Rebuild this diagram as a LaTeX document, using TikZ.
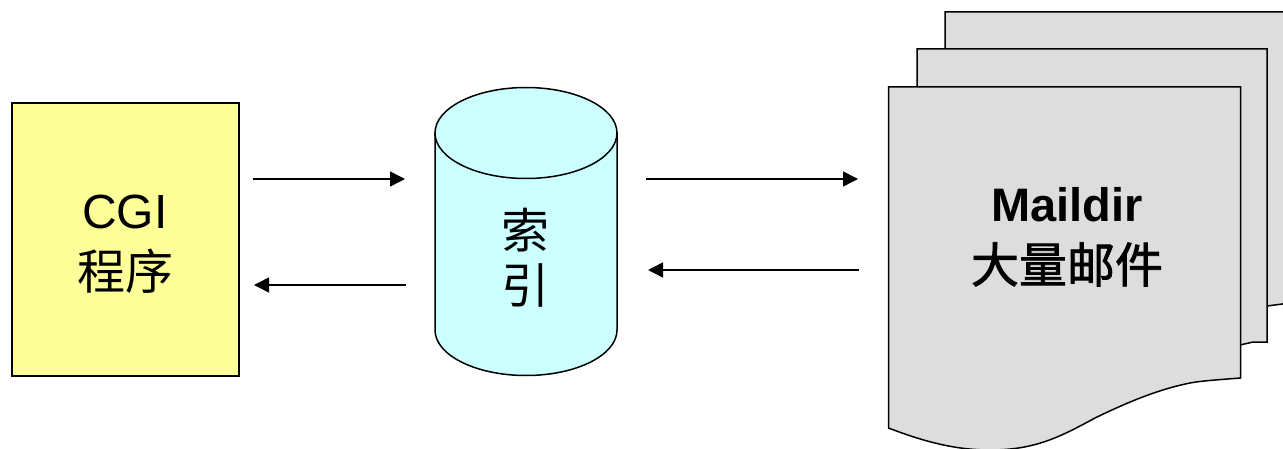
\documentclass[tikz,border=0pt]{standalone}
\usepackage{fontspec}
\setmainfont{Liberation Sans}
\newfontfamily\cjk{Noto Sans CJK SC}
\newfontfamily\cjkheavy[FakeBold=1.6]{Noto Sans CJK SC}
\usetikzlibrary{arrows.meta}
\definecolor{paper}{HTML}{DDDDDD}
\definecolor{note}{HTML}{FFFF99}
\definecolor{store}{HTML}{CCFFFF}
\tikzset{
  outline/.style={draw=black,line width=1.5pt},
  sheet/.style={outline,fill=paper,line join=miter},
  flow/.style={draw=black,line width=1.5pt,-{Triangle[length=15pt,width=15pt]}},
  label/.style={align=center,inner sep=0pt,font=\fontsize{48}{60}\selectfont},
  frame/.style={minimum width=#1,inner sep=0pt,outer sep=0pt},
}
\begin{document}
\begin{tikzpicture}[x=1pt,y=-1pt]
\useasboundingbox (0,0) rectangle (1283,449);
\clip (0,0) rectangle (1283,449);
% paper stack
\path[sheet] (945,12) -- (1290,12) -- (1290,303) -- (1267,306) -- (1240,306) -- (945,306) -- cycle;
\path[sheet] (917,49) -- (1267,49) -- (1267,342) -- (1253,342) -- (1240,345) -- (917,345) -- cycle;
\path[sheet] (888.5,87) -- (1240.5,87) -- (1240.5,378)
  .. controls (1215,380) and (1200,381) .. (1190,383)
  .. controls (1160,389) and (1130,401) .. (1095,418)
  .. controls (1060,437) and (1035,450) .. (990,450)
  .. controls (960,450) and (930,444) .. (888.5,428) -- cycle;
\node[frame=352pt,minimum height=363pt] (mail) at (1064.5,268.5) {};
% index cylinder
\path[outline,fill=store] (435,133) -- (435,330) arc[start angle=180,end angle=0,x radius=91,y radius=45.5] -- (617,133) -- cycle;
\path[outline,fill=store] (526,133) ellipse[x radius=91,y radius=45.5];
\node[frame=182pt,minimum height=288pt] (idx) at (526,232) {};
% CGI box
\node[outline,fill=note,frame=227pt,minimum height=273pt] (cgi) at (125.5,239.5) {};
% labels
\node[label] (cgitext) at (125,244.5) {CGI\\[1pt]{\cjk 程序}};
\node[label] (idxtext) at (525,257.5) {{\cjk 索}\\[-5pt]{\cjk 引}};
\node[label] (mailtext) at (1067,237) {{\fontsize{47}{60}\selectfont\textbf{Maildir}}\\[1pt]{\cjkheavy 大量邮件}};
% connectors
\draw[flow] ([xshift=14pt,yshift=60.5pt]cgi.east) -- ([xshift=-30pt,yshift=53pt]idx.west);
\draw[flow] ([xshift=-29pt,yshift=-53pt]idx.west) -- ([xshift=15pt,yshift=-45.5pt]cgi.east);
\draw[flow] ([xshift=29pt,yshift=53pt]idx.east) -- ([xshift=-30.5pt,yshift=89.5pt]mail.west);
\draw[flow] ([xshift=-29.5pt,yshift=-1.5pt]mail.west) -- ([xshift=31pt,yshift=-38pt]idx.east);
\end{tikzpicture}
\end{document}
